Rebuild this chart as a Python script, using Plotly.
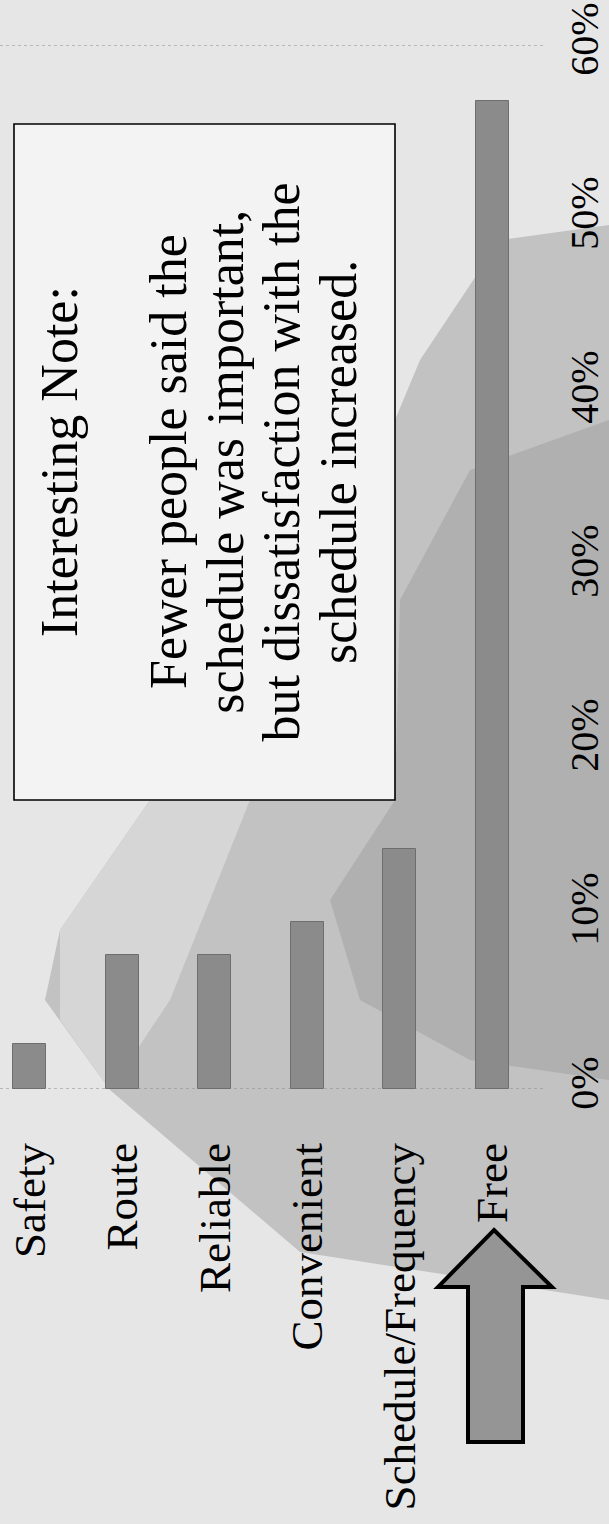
import plotly.graph_objects as go

# Survey: most important reason for riding (share of respondents)
categories = ["Safety", "Route", "Reliable", "Convenient", "Schedule/Frequency", "Free"]
shares = [2.6, 7.7, 7.7, 9.6, 13.8, 56.8]
value_ticks = [0, 10, 20, 30, 40, 50, 60]
value_labels = ["0%", "10%", "20%", "30%", "40%", "50%", "60%"]

note_title = "Interesting Note:"
note_lines = ["Fewer people said the",
              "schedule was important,",
              "but dissatisfaction with the",
              "schedule increased."]

W, H = 609, 1524
ML, MR, MT, MB = 0, 54, 45, 435
PW, PH = W - ML - MR, H - MT - MB
FONT = "Liberation Serif, DejaVu Serif, serif"


def P(px, py):
    """Pixel position on the page -> paper coordinates."""
    return (px - ML) / PW, (H - MB - py) / PH


def path(points):
    pts = [P(x, y) for x, y in points]
    return "M " + " L ".join(f"{x:.5f},{y:.5f}" for x, y in pts) + " Z"


fig = go.Figure()
fig.add_trace(go.Bar(
    x=categories, y=shares, width=0.357,
    marker=dict(color="#8b8b8b", line=dict(color="#6e6e6e", width=1)),
    hoverinfo="skip",
))

shapes = []
# textured backdrop: mid-grey swirl band across the light page
shapes.append(dict(type="path", xref="paper", yref="paper", layer="below",
                   path=path([(609, 225), (500, 240), (420, 360), (395, 420),
                              (395, 800), (150, 800), (60, 930), (45, 1000),
                              (110, 1090), (300, 1252), (609, 1300)]),
                   fillcolor="#c2c2c2", line=dict(width=0)))
shapes.append(dict(type="path", xref="paper", yref="paper", layer="below",
                   path=path([(609, 420), (470, 470), (400, 600), (395, 800),
                              (330, 900), (360, 1000), (470, 1060), (609, 1080)]),
                   fillcolor="#b0b0b0", line=dict(width=0)))
shapes.append(dict(type="path", xref="paper", yref="paper", layer="below",
                   path=path([(150, 800), (250, 800), (170, 1000), (110, 1090),
                              (60, 1020), (60, 930)]),
                   fillcolor="#d6d6d6", line=dict(width=0)))
# plot-area border lines at 0% and 60%
for yy in (0, 60):
    shapes.append(dict(type="line", xref="paper", yref="y", x0=0, x1=0.98, y0=yy, y1=yy,
                       line=dict(color="#8a8a8a", width=1, dash="dot"), layer="below"))
# note box
x0, y0 = P(14, 124)
x1, y1 = P(395, 800)
shapes.append(dict(type="rect", xref="paper", yref="paper", x0=x0, y0=y1, x1=x1, y1=y0,
                   fillcolor="#f3f3f3", line=dict(color="#000000", width=1.6)))
# block arrow pointing at "Free"
shapes.append(dict(type="path", xref="paper", yref="paper",
                   path=path([(494, 1230), (552, 1287), (523, 1287), (523, 1442),
                              (468, 1442), (468, 1287), (438, 1287)]),
                   fillcolor="#959595", line=dict(color="#000000", width=4)))

annotations = []
ax, ay = P(59, 462)
annotations.append(dict(xref="paper", yref="paper", x=ax, y=ay, text=note_title,
                        xanchor="center", yanchor="middle",
                        textangle=-90, showarrow=False,
                        font=dict(family=FONT, size=52, color="#000000")))
for i, line in enumerate(note_lines):
    lx, ly = P(168 + 56.7 * i, 462)
    annotations.append(dict(xref="paper", yref="paper", x=lx, y=ly, text=line,
                            xanchor="center", yanchor="middle",
                            textangle=-90, showarrow=False,
                            font=dict(family=FONT, size=52, color="#000000")))

fig.update_layout(
    width=W, height=H,
    margin=dict(l=ML, r=MR, t=MT, b=MB, autoexpand=False),
    paper_bgcolor="#e6e6e6",
    plot_bgcolor="rgba(0,0,0,0)",
    showlegend=False,
    bargap=0,
    shapes=shapes,
    annotations=annotations,
    font=dict(family=FONT, color="#000000"),
)
fig.update_xaxes(
    type="category", range=[-0.324, 5.676],
    tickangle=-90, tickfont=dict(family=FONT, size=45, color="#000000"),
    ticklabelstandoff=44, showgrid=False, showline=False, zeroline=False, ticks="",
)
fig.update_yaxes(
    side="right", range=[0, 60], tickmode="array",
    tickvals=value_ticks, ticktext=value_labels,
    tickangle=-90, tickfont=dict(family=FONT, size=40, color="#000000"),
    ticklabelstandoff=2, showgrid=False, showline=False, zeroline=False, ticks="",
)

fig.write_html("out.html")
